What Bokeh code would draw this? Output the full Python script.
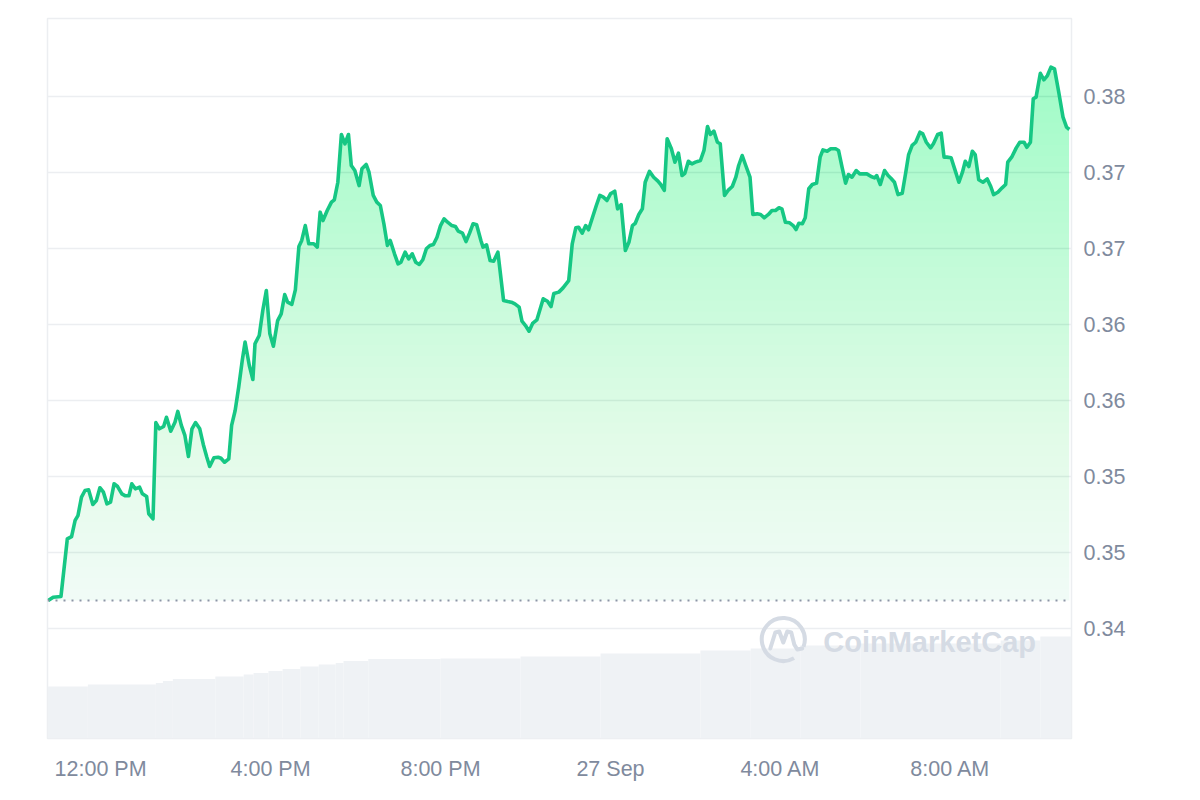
import numpy as np
from bokeh.plotting import figure
from bokeh.models import Range1d, FixedTicker, Span, Label
from bokeh.embed import file_html
from bokeh.resources import INLINE

# ---- data -----------------------------------------------------------------
# minutes relative to 26 Sep, 12:00 PM
minutes = [
    -74, -67, -56, -47, -41, -36, -32, -27, -22, -17,
    -11, -6, -1, 4, 9, 14, 19, 24, 30, 35,
    40, 44, 49, 55, 59, 65, 68, 74, 78, 83,
    89, 93, 99, 105, 109, 114, 119, 124, 129, 134,
    140, 145, 150, 154, 160, 166, 170, 175, 181, 185,
    190, 195, 200, 204, 210, 215, 218, 224, 229, 234,
    239, 244, 250, 255, 260, 264, 270, 275, 280, 284,
    289, 294, 301, 306, 310, 314, 320, 326, 330, 335,
    340, 345, 350, 354, 359, 365, 369, 375, 379, 385,
    390, 395, 400, 405, 409, 415, 420, 424, 430, 435,
    440, 445, 450, 455, 460, 465, 470, 475, 480, 485,
    490, 496, 501, 505, 511, 516, 521, 526, 531, 537,
    540, 545, 550, 555, 561, 569, 575, 580, 585, 591,
    595, 600, 605, 610, 616, 625, 631, 636, 640, 647,
    653, 661, 666, 671, 675, 680, 685, 689, 695, 700,
    705, 710, 715, 720, 726, 730, 735, 741, 746, 751,
    755, 760, 765, 769, 775, 781, 787, 791, 796, 800,
    806, 811, 816, 821, 825, 830, 835, 840, 847, 852,
    857, 861, 866, 871, 875, 881, 886, 892, 897, 901,
    906, 911, 917, 921, 927, 932, 937, 943, 948, 953,
    958, 962, 967, 973, 978, 982, 986, 991, 995, 1000,
    1005, 1011, 1016, 1020, 1026, 1031, 1038, 1042, 1047, 1052,
    1056, 1061, 1067, 1072, 1078, 1082, 1088, 1093, 1096, 1101,
    1107, 1112, 1116, 1121, 1126, 1132, 1137, 1141, 1146, 1151,
    1157, 1161, 1166, 1172, 1176, 1182, 1187, 1191, 1195, 1201,
    1206, 1212, 1217, 1221, 1226, 1231, 1235, 1240, 1246, 1252,
    1257, 1261, 1267, 1273, 1278, 1281, 1287, 1293, 1298, 1304,
    1308, 1313, 1317, 1321, 1327, 1332, 1337, 1342, 1347, 1353,
    1359, 1364, 1368,
]
price = [
    0.34184, 0.34206, 0.34211, 0.34590, 0.34605, 0.34711, 0.34743, 0.34864, 0.34908, 0.34913,
    0.34816, 0.34842, 0.34926, 0.34897, 0.34820, 0.34831, 0.34952, 0.34934, 0.34886, 0.34873,
    0.34873, 0.34952, 0.34919, 0.34930, 0.34886, 0.34868, 0.34755, 0.34722, 0.35355, 0.35314,
    0.35329, 0.35390, 0.35298, 0.35357, 0.35428, 0.35336, 0.35270, 0.35132, 0.35314, 0.35355,
    0.35314, 0.35211, 0.35127, 0.35066, 0.35123, 0.35127, 0.35120, 0.35094, 0.35116, 0.35336,
    0.35434, 0.35588, 0.35763, 0.35884, 0.35730, 0.35638, 0.35873, 0.35928, 0.36092, 0.36224,
    0.35939, 0.35857, 0.36026, 0.36070, 0.36197, 0.36147, 0.36132, 0.36228, 0.36513, 0.36553,
    0.36651, 0.36531, 0.36531, 0.36509, 0.36739, 0.36684, 0.36750, 0.36805, 0.36820, 0.36936,
    0.37250, 0.37189, 0.37250, 0.37046, 0.37013, 0.36914, 0.37024, 0.37053, 0.37002, 0.36849,
    0.36805, 0.36783, 0.36663, 0.36520, 0.36553, 0.36465, 0.36399, 0.36410, 0.36476, 0.36432,
    0.36465, 0.36410, 0.36395, 0.36426, 0.36498, 0.36520, 0.36526, 0.36574, 0.36651, 0.36695,
    0.36673, 0.36651, 0.36645, 0.36614, 0.36601, 0.36546, 0.36601, 0.36663, 0.36656, 0.36553,
    0.36509, 0.36524, 0.36421, 0.36416, 0.36476, 0.36158, 0.36151, 0.36147, 0.36136, 0.36114,
    0.36022, 0.35993, 0.35956, 0.36007, 0.36030, 0.36169, 0.36153, 0.36118, 0.36204, 0.36213,
    0.36241, 0.36289, 0.36531, 0.36636, 0.36640, 0.36601, 0.36651, 0.36623, 0.36711, 0.36783,
    0.36849, 0.36838, 0.36816, 0.36860, 0.36877, 0.36761, 0.36789, 0.36487, 0.36541, 0.36651,
    0.36666, 0.36724, 0.36761, 0.36936, 0.37007, 0.36969, 0.36943, 0.36921, 0.36882, 0.37222,
    0.37156, 0.37068, 0.37127, 0.36980, 0.36995, 0.37074, 0.37057, 0.37068, 0.37079, 0.37145,
    0.37303, 0.37250, 0.37272, 0.37199, 0.37189, 0.36849, 0.36882, 0.36908, 0.36969, 0.37046,
    0.37112, 0.37046, 0.36969, 0.36724, 0.36728, 0.36724, 0.36702, 0.36724, 0.36750, 0.36750,
    0.36768, 0.36761, 0.36673, 0.36669, 0.36651, 0.36625, 0.36666, 0.36663, 0.36702, 0.36893,
    0.36921, 0.36930, 0.37101, 0.37149, 0.37140, 0.37156, 0.37156, 0.37145, 0.37035, 0.36930,
    0.36987, 0.36969, 0.37013, 0.36991, 0.36991, 0.36991, 0.36974, 0.36965, 0.36980, 0.36921,
    0.37013, 0.36980, 0.36962, 0.36936, 0.36855, 0.36864, 0.37002, 0.37118, 0.37178, 0.37199,
    0.37265, 0.37254, 0.37199, 0.37162, 0.37189, 0.37250, 0.37259, 0.37101, 0.37101, 0.37097,
    0.37024, 0.36936, 0.37002, 0.37074, 0.37039, 0.37140, 0.37118, 0.36952, 0.36936, 0.36958,
    0.36908, 0.36855, 0.36870, 0.36899, 0.36921, 0.37068, 0.37105, 0.37162, 0.37199, 0.37199,
    0.37166, 0.37199, 0.37485, 0.37496, 0.37653, 0.37610, 0.37638, 0.37693, 0.37682, 0.37528,
    0.37364, 0.37298, 0.37283,
]
assert len(minutes) == len(price)

# volume (USD millions), stepped per time bucket (edges in minutes)
vol_edges = [-75, -18, 78, 88, 102, 162, 202, 216, 237, 257, 282, 308, 332,
             343, 378, 480, 593, 706, 847, 918, 988, 1073, 1271, 1327, 1371]
vol_values = [26.0, 27.0, 27.8, 28.8, 29.8, 31.0, 32.0, 32.8, 33.8, 34.8, 36.0, 37.0,
              37.8, 38.8, 39.8, 40.0, 41.0, 42.5, 44.0, 45.0, 46.5, 47.5, 49.0, 51.0]

x_tick_minutes = [0, 240, 480, 720, 960, 1200]
x_tick_labels = ["12:00 PM", "4:00 PM", "8:00 PM", "27 Sep", "4:00 AM", "8:00 AM"]
y_ticks = [0.34, 0.345, 0.35, 0.355, 0.36, 0.365, 0.37, 0.375]
y_tick_labels = ["0.34", "0.35", "0.35", "0.36", "0.36", "0.37", "0.37", "0.38"]

# ---- style ----------------------------------------------------------------
GREEN = "#16c784"
TXT = "#808a9d"
FONT = "Liberation Sans"

Y0, Y1 = 0.332763, 0.380132
X0, X1 = -75, 1371

p = figure(frame_width=1024, frame_height=720,
           x_range=Range1d(X0, X1), y_range=Range1d(Y0, Y1),
           y_axis_location="right",
           output_backend="svg", toolbar_location=None,
           min_border_left=47, min_border_top=18,
           min_border_right=121, min_border_bottom=54,
           background_fill_color="white", border_fill_color="white")
p.extra_y_ranges = {"vol": Range1d(0, 360)}
p.outline_line_color = "#eceef1"
p.outline_line_width = 1.5

# axes
p.xaxis.ticker = FixedTicker(ticks=x_tick_minutes)
p.xaxis.major_label_overrides = dict(zip(x_tick_minutes, x_tick_labels))
p.yaxis.ticker = FixedTicker(ticks=y_ticks)
p.yaxis.major_label_overrides = dict(zip(y_ticks, y_tick_labels))
for ax in (p.xaxis[0], p.yaxis[0]):
    ax.axis_line_color = None
    ax.major_tick_line_color = None
    ax.minor_tick_line_color = None
    ax.major_tick_out = 0
    ax.major_tick_in = 0
    ax.major_label_text_color = TXT
    ax.major_label_text_font = FONT
    ax.major_label_text_font_size = "21.5px"
p.xaxis.major_label_standoff = 18
p.yaxis.major_label_standoff = 12
p.xgrid.grid_line_color = None
p.ygrid.grid_line_color = "#eceef1"
p.ygrid.grid_line_width = 1.5

# volume
p.quad(left=vol_edges[:-1], right=vol_edges[1:], bottom=0, top=vol_values,
       y_range_name="vol", fill_color="#eff2f5", line_color=None)

# gradient fill under price line (stacked translucent layers)
pr = np.array(price, dtype=float)
base = price[0]
n_layers = 48
levels = np.linspace(base, pr.max(), n_layers + 1)[:-1]
step = levels[1] - levels[0]
A_TOP = 0.33
prev_c = 0.0
for L in levels:
    target = A_TOP * ((L + step / 2) - Y0) / (Y1 - Y0)
    a = 1 - (1 - target) / (1 - prev_c)
    prev_c = target
    p.varea(x=minutes, y1=L, y2=np.maximum(pr, L),
            fill_color="#18c47f", fill_alpha=float(max(a, 0)))

# baseline (opening price)
p.add_layout(Span(location=base, dimension="width", line_color="#8d95a6",
                  line_dash="2 6", line_width=2))

# price line
p.line(minutes, price, line_color=GREEN, line_width=3.6, line_join="round")

# ---- watermark ------------------------------------------------------------
px_x = (X1 - X0) / 1024.0
px_y = (Y1 - Y0) / 720.0
cx, cy = 964.0, 0.339276
WM = "#d5dbe4"
p.arc(x=[cx], y=[cy], radius=21.5, radius_units="screen",
      start_angle=np.radians(-20), end_angle=np.radians(300),
      line_color=WM, line_width=4)
wave = [(-13, 9), (-8, -7), (-4, -8), (0, 3), (4, -8), (8, -7), (11, 5), (14, 10), (19, 9)]
p.line([cx + dx * px_x for dx, dy in wave], [cy - dy * px_y for dx, dy in wave],
       line_color=WM, line_width=4, line_join="round", line_cap="round")
p.add_layout(Label(x=cx + 40 * px_x, y=cy - 2 * px_y, text="CoinMarketCap",
                   text_font=FONT, text_font_size="29px", text_font_style="bold",
                   text_color=WM, text_baseline="middle", text_align="left"))

open("out.html", "w").write(file_html(p, INLINE))
